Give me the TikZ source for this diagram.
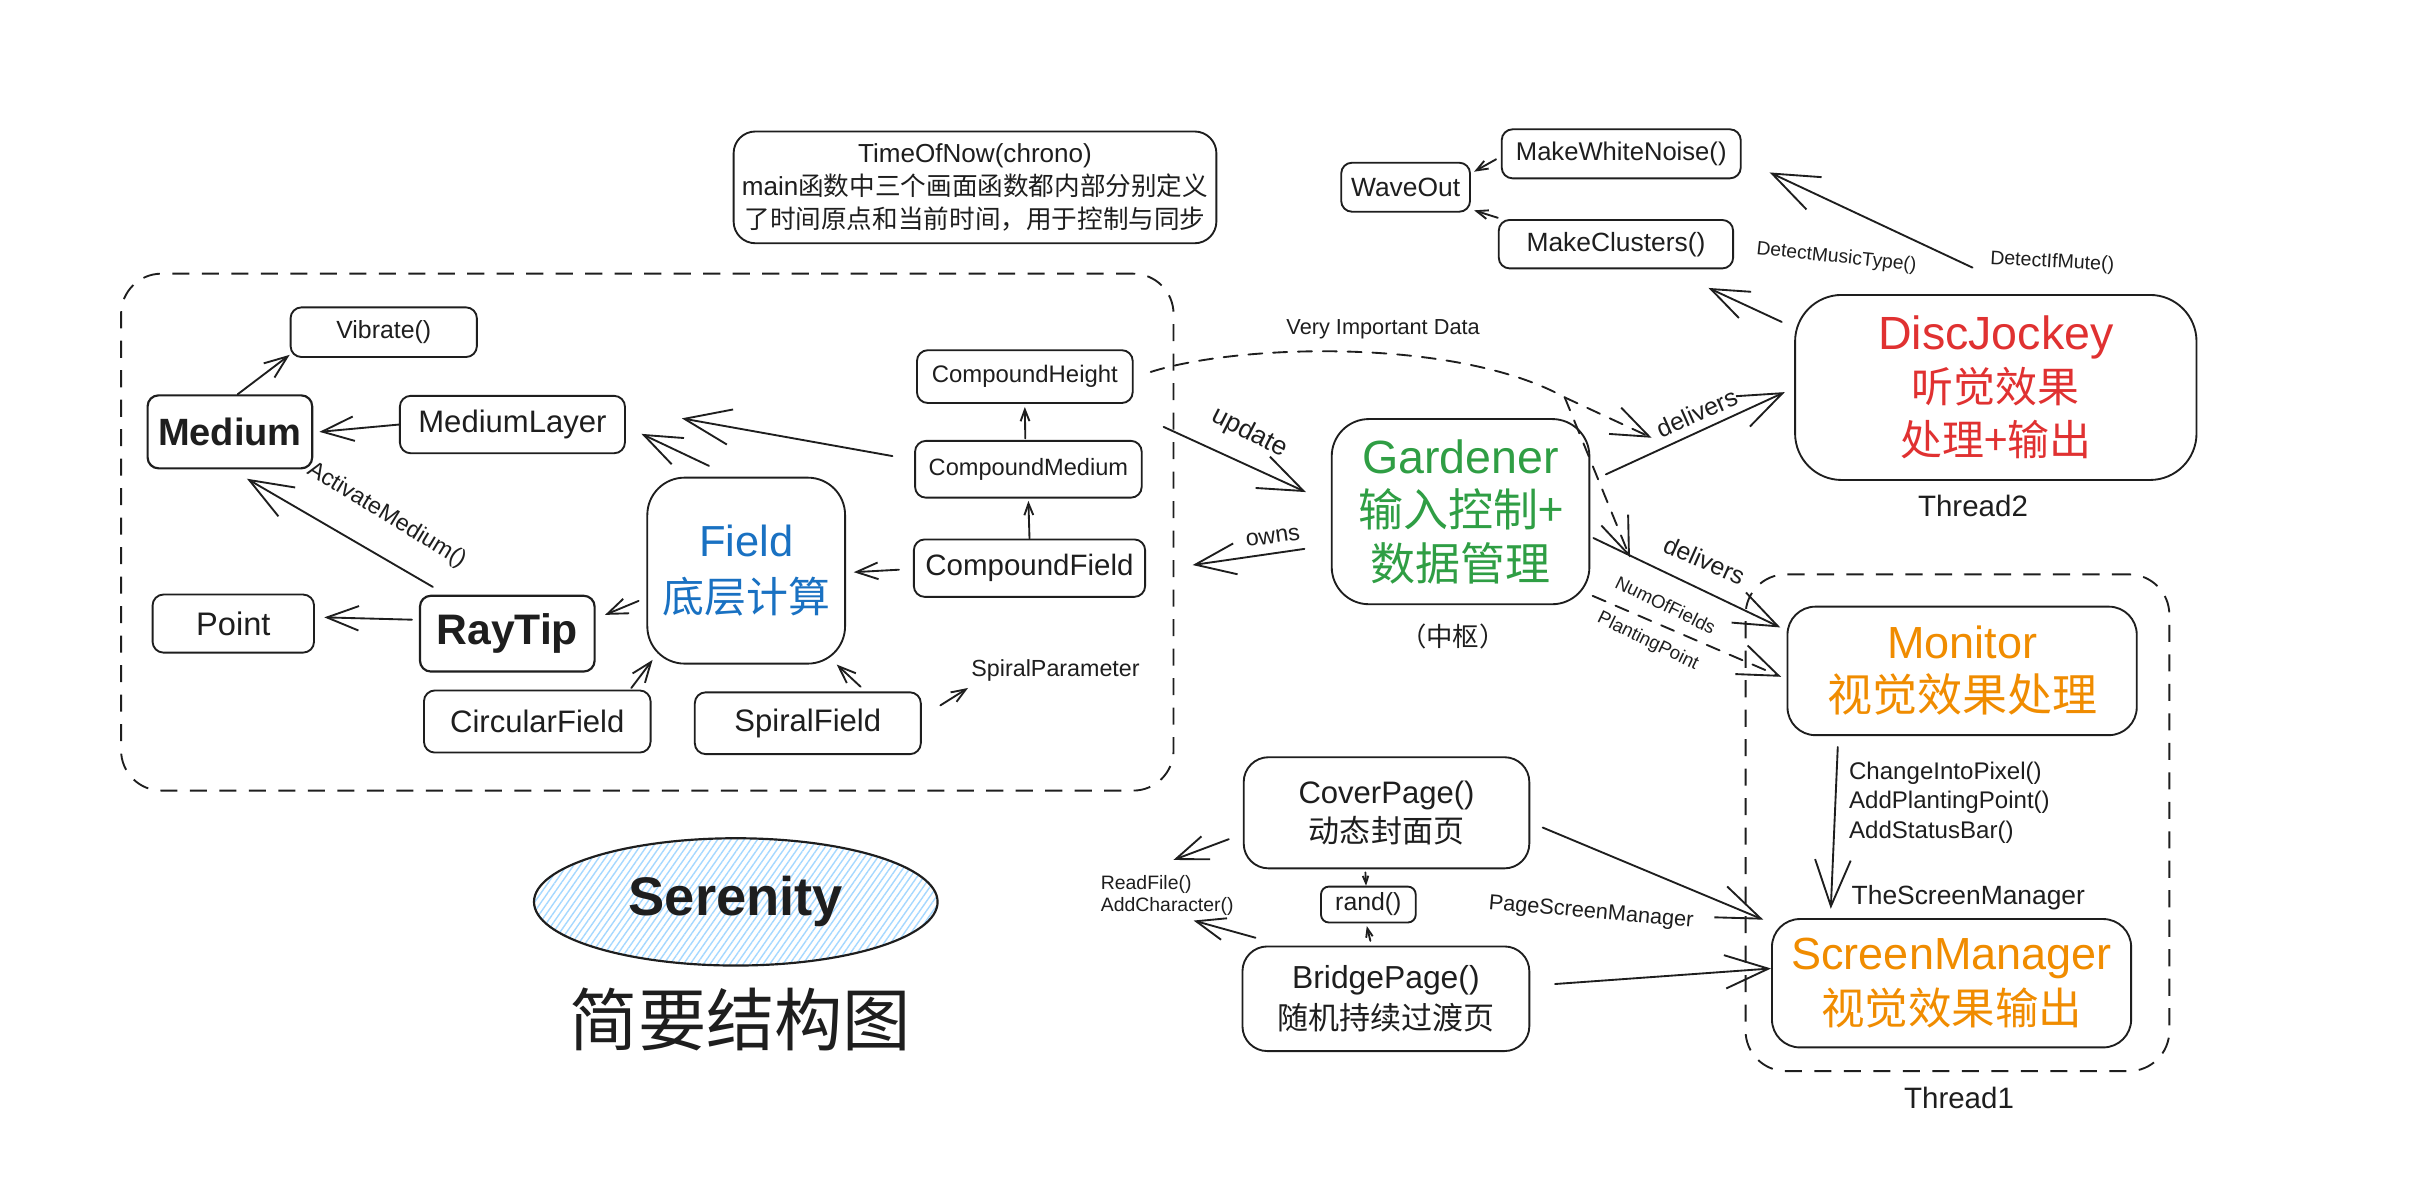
\documentclass[tikz,border=0pt]{standalone}
\usepackage{fontspec}
\setmainfont{Liberation Sans}
\newfontfamily\cjk{Noto Sans CJK SC}
\usetikzlibrary{arrows.meta,shapes.geometric,patterns.meta,calc}
\definecolor{ink}{HTML}{1E1E1E}
\definecolor{fblue}{HTML}{1971C2}
\definecolor{fgreen}{HTML}{2F9E44}
\definecolor{fred}{HTML}{E03131}
\definecolor{forange}{HTML}{F08C00}
\definecolor{hatch}{HTML}{A5D8FF}
\newcommand\fs[2]{\fontsize{#1}{#2}\selectfont}
\begin{document}
\begin{tikzpicture}[x=1pt,y=-1pt,
  box/.style={draw=ink, line width=1.2pt, rounded corners=7pt, inner sep=0pt, align=center, text=ink},
  grp/.style={draw=ink, line width=1.2pt, dash pattern=on 11pt off 8pt, rounded corners=26pt, inner sep=0pt},
  lbl/.style={inner sep=0pt, text=ink, align=center},
  con/.style={draw=ink, line width=1.2pt, line cap=round, line join=round},
  arr/.style={con, -{Straight Barb[angle=42:#1pt, line width=1.2pt]}},
  arr/.default=20,
  dsh/.style={dash pattern=on 9pt off 7pt},
]
\useasboundingbox (0,0) rectangle (1568,774);
\fill[white] (0,0) rectangle (1568,774);

% ---------- groups ----------
\node[grp, minimum width=678pt, minimum height=333pt] (lgrp) at (417,342.8) {};
\node[grp, minimum width=273pt, minimum height=320pt] (t1) at (1261,530) {};

% ---------- left group nodes ----------
\node[box, minimum width=120pt, minimum height=32pt, font=\fs{16}{19}] (vib) at (247.2,214) {Vibrate()};
\node[box, minimum width=106pt, minimum height=47pt, line width=1.4pt, font=\bfseries\fs{24.5}{30}] (med) at (148.1,278.2) {Medium};
\node[box, minimum width=145pt, minimum height=37pt, font=\fs{20}{24}] (mlay) at (330.1,273.5) {MediumLayer};
\node[box, minimum width=139pt, minimum height=34pt, font=\fs{15.4}{18}] (cht) at (660.2,242.6) {CompoundHeight};
\node[box, minimum width=146pt, minimum height=36.6pt, font=\fs{15.2}{18}] (cmd) at (662.5,302.3) {CompoundMedium};
\node[box, minimum width=149pt, minimum height=37pt, font=\fs{19}{22}] (cfd) at (663.2,366) {CompoundField};
\node[box, rounded corners=24pt, minimum width=127.4pt, minimum height=119.8pt, font=\fs{28}{36}, text=fblue] (fld) at (480.7,367.6) {Field\\{\cjk\fs{27}{36}底层计算}};
\node[box, minimum width=104pt, minimum height=37.4pt, font=\fs{21}{24}] (pt) at (150.3,401.7) {Point};
\node[box, minimum width=112.5pt, minimum height=48.8pt, line width=1.4pt, font=\bfseries\fs{27.5}{32}] (ray) at (326.8,408.2) {RayTip};
\node[box, minimum width=146pt, minimum height=40pt, font=\fs{20}{24}] (circ) at (346.1,464.8) {CircularField};
\node[box, minimum width=145.6pt, minimum height=39.8pt, font=\fs{20}{24}] (spf) at (520.4,465.9) {SpiralField};
\node[lbl, font=\fs{15}{18}] (spp) at (680,432) {SpiralParameter};

% ---------- top nodes ----------
\node[box, rounded corners=14pt, minimum width=311pt, minimum height=72pt, font=\fs{16.8}{21}] (time) at (628.1,120.7) {TimeOfNow(chrono)\\main{\cjk\fs{16.5}{21}函数中三个画面函数都内部分别定义}\\{\cjk\fs{16.5}{21}了时间原点和当前时间，用于控制与同步}};
\node[box, minimum width=83pt, minimum height=31.6pt, font=\fs{17}{20}] (wav) at (905.5,120.6) {WaveOut};
\node[box, minimum width=154pt, minimum height=31.6pt, font=\fs{16.5}{19}] (mwn) at (1044.4,99.1) {MakeWhiteNoise()};
\node[box, minimum width=151pt, minimum height=31.2pt, font=\fs{17}{20}] (mcl) at (1041,157.3) {MakeClusters()};
\node[box, rounded corners=30pt, minimum width=258.6pt, minimum height=119.2pt, font=\fs{30}{34}, text=fred] (dj) at (1285.7,249.6) {DiscJockey\\{\cjk\fs{27}{34}听觉效果}\\{\cjk\fs{27}{34}处理+输出}};
\node[lbl, font=\fs{19}{22}] (th2) at (1271,326) {Thread2};

% ---------- centre ----------
\node[box, rounded corners=24pt, minimum width=166pt, minimum height=119.3pt, font=\fs{30}{34.5}, text=fgreen] (gard) at (940.9,329.6) {Gardener\\{\cjk\fs{29}{34.5}输入控制+}\\{\cjk\fs{29}{34.5}数据管理}};
\node[lbl, font=\cjk\fs{17}{20}] (hub) at (936,410) {（中枢）};

% ---------- thread1 ----------
\node[box, rounded corners=18pt, minimum width=225pt, minimum height=82.8pt, font=\fs{29}{34}, text=forange] (mon) at (1264,432.2) {Monitor\\{\cjk\fs{29}{34}视觉效果处理}};
\node[box, rounded corners=18pt, minimum width=231.4pt, minimum height=82.7pt, font=\fs{29}{35}, text=forange] (sm) at (1257.2,633.4) {ScreenManager\\{\cjk\fs{28}{35}视觉效果输出}};
\node[lbl, font=\fs{19}{22}] (th1) at (1262,707) {Thread1};
\node[lbl, align=left, anchor=west, font=\fs{15.5}{19}] (meth) at (1191,517) {ChangeIntoPixel()\\AddPlantingPoint()\\AddStatusBar()};
\node[lbl, font=\fs{17}{20}] (tsm) at (1268,578) {TheScreenManager};

% ---------- pages ----------
\node[box, rounded corners=16pt, minimum width=184pt, minimum height=71.6pt, font=\fs{20}{25}] (cover) at (893.2,523.6) {CoverPage()\\{\cjk\fs{20}{25}动态封面页}};
\node[box, rounded corners=5pt, minimum width=61pt, minimum height=23.1pt, font=\fs{16}{19}] (rand) at (881.5,582.7) {rand()};
\node[box, rounded corners=16pt, minimum width=184.8pt, minimum height=67.4pt, font=\fs{20.5}{26}] (bridge) at (892.8,643.4) {BridgePage()\\{\cjk\fs{20}{26}随机持续过渡页}};
\node[lbl, align=left, anchor=west, font=\fs{12.5}{14}] (rf) at (709,577) {ReadFile()\\AddCharacter()};

% ---------- title ----------
\node[ellipse, draw=ink, line width=1.4pt, minimum width=260pt, minimum height=82pt, inner sep=0pt,
      pattern={Lines[angle=55,distance=3.5pt,line width=0.9pt]}, pattern color=hatch,
      text=ink, font=\bfseries\fs{35}{40}] (ser) at (474,581) {Serenity};
\node[lbl, font=\cjk\fs{44}{48}] (ttl) at (477,657) {简要结构图};

% ---------- connectors: left group ----------
\draw[arr=16] ($(med.north)+(5,0)$) -- ($(vib.south west)+(0,-2)$);
\draw[arr=22] (mlay.west) -- ($(med.east)+(4,0)$);
\draw[arr=32] ($(cmd.west)+(-14,-8.5)$) -- ($(mlay.east)+(36,-4)$);
\draw[arr=26] ($(fld.north)+(-24,-7)$) -- ($(mlay.east)+(10,6)$);
\draw[arr=8] ($(cmd.north)+(-2,-1)$) -- ($(cht.south)+(0,2)$);
\draw[arr=8] (cfd.north) -- ($(cmd.south)+(0,1.5)$);
\draw[arr=15] ($(cfd.west)+(-9,1)$) -- ($(fld.east)+(5,1)$);
\draw[arr=30] ($(ray.north west)+(9,-5)$) -- ($(med.south)+(11,6)$);
\node[lbl, rotate=-31.3, font=\fs{15}{18}] (lact) at (249,332) {ActivateMedium()};
\draw[arr=22] ($(ray.west)+(-4.5,-9)$) -- ($(pt.east)+(6,-4)$);
\draw[arr=14] ($(fld.west)+(-5,19.5)$) -- ($(ray.north east)+(6,13)$);
\draw[arr=14] ($(circ.north east)+(-13,-1)$) -- ($(fld.south west)+(4,-3)$);
\draw[arr=12] ($(spf.north)+(34,-3)$) -- ($(fld.south east)+(-6,0)$);
\draw[arr=10] ($(spf.north east)+(12,9)$) -- ($(spp.south west)+(-2,4)$);

% ---------- very important data ----------
\coordinate (vj) at (1008,256);
\coordinate (vend) at (1064,282);
\coordinate (vdn) at (1050,359);
\draw[con, dsh] ($(cht.east)+(11,-3)$) .. controls (800,221) and (940,218) .. (vj);
\draw[arr=26, dsh] (vj) -- (vend);
\draw[arr=26, dsh] (vj) -- (vdn);
\node[lbl, font=\fs{14}{16}] (lvid) at (891,212) {Very Important Data};

% ---------- gardener links ----------
\draw[arr=30] ($(gard.east)+(10,-24)$) -- ($(dj.west)+(-6,3)$);
\node[lbl, rotate=24, font=\fs{16}{18}] (ldel1) at (1093,266) {delivers};
\draw[arr=30] ($(gard.east)+(2,17)$) -- ($(mon.north west)+(-4,14)$);
\node[lbl, rotate=-24, font=\fs{16}{18}] (ldel2) at (1098,361) {delivers};
\draw[arr=28, dsh] ($(gard.south east)+(1.5,-6)$) -- ($(mon.west)+(-3.5,3.8)$);
\node[lbl, rotate=-26, font=\fs{12}{14}] (lnum) at (1067,402) {NumOfFields\\[11pt]PlantingPoint};
\draw[arr=28] ($(gard.west)+(-17,24)$) -- ($(cfd.east)+(30,-2)$);
\node[lbl, rotate=8, font=\fs{15}{18}] (lown) at (820,346) {owns};
\draw[arr=31] ($(lgrp.east)+(-7,-67.8)$) -- ($(gard.west)+(-16,-12.6)$);
\node[lbl, rotate=-27, font=\fs{17}{20}] (lupd) at (805,279) {update};

% ---------- disc jockey links ----------
\draw[arr=26] ($(dj.north west)+(-8,18)$) -- ($(mcl.south east)+(-16.5,12)$);
\node[lbl, rotate=-6, font=\fs{12.4}{15}] (ldmt) at (1183,166) {DetectMusicType()};
\draw[arr=32] ($(dj.north)+(-15,-17)$) -- ($(mwn.east)+(18,12)$);
\node[lbl, rotate=-3, font=\fs{12.6}{15}] (ldim) at (1322,169) {DetectIfMute()};
\draw[arr=8] ($(mwn.west)+(-3,3.5)$) -- ($(wav.east)+(2,-10)$);
\draw[arr=8] ($(mcl.west)+(0,-17)$) -- ($(wav.south east)+(2,-1.5)$);

% ---------- thread1 / pages links ----------
\draw[arr=32] ($(mon.south west)+(33,7)$) -- ($(sm.north west)+(38.5,-6)$);
\draw[arr=30] ($(cover.east)+(8,9.5)$) -- ($(sm.north west)+(-5,1)$);
\draw[arr=30] ($(bridge.east)+(16,-9.5)$) -- ($(sm.west)+(0,-9.5)$);
\node[lbl, rotate=-5, font=\fs{14}{16}] (lpsm) at (1025,588) {PageScreenManager};
\draw[arr=22] ($(cover.west)+(-9,17)$) -- ($(rf.north)+(4,-10)$);
\draw[arr=20] ($(bridge.north west)+(9,-5)$) -- ($(rf.south)+(17,3)$);
\draw[arr=5] ($(cover.south)+(-13.6,2)$) -- ($(rand.north)+(-1.5,0)$);
\draw[arr=6] ($(bridge.north)+(-10,-3)$) -- ($(rand.south)+(-1,1.7)$);
\end{tikzpicture}
\end{document}
